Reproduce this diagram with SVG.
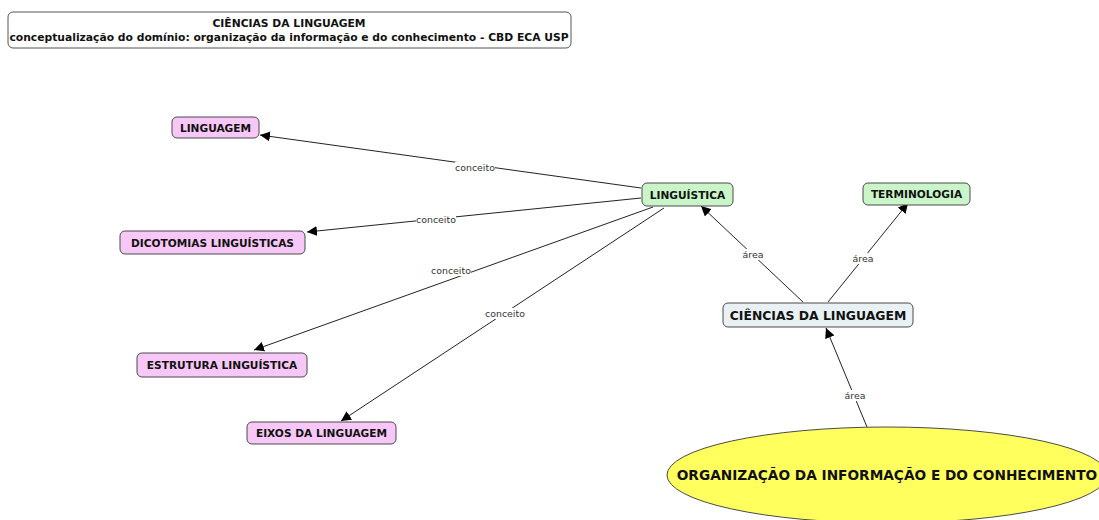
<svg xmlns="http://www.w3.org/2000/svg" width="1099" height="520" viewBox="0 0 1099 520">
<defs>
<marker id="arr" viewBox="0 0 10 10" refX="10" refY="5" markerWidth="10" markerHeight="10" markerUnits="userSpaceOnUse" orient="auto">
<path d="M0,0 L10,5 L0,10 z" fill="#000"/>
</marker>
</defs>
<style>
text{font-family:"DejaVu Sans",Verdana,sans-serif;}
.node rect{stroke:#4a4a4a;stroke-width:1;}
.pink{fill:#f7c8f7;}
.green{fill:#c9f5c9;}
.blue{fill:#eaf1f4;}
.nt{font-weight:bold;font-size:10.6px;fill:#111;text-anchor:middle;}
.big{font-size:12.4px;}
.edge line{stroke:#222;stroke-width:1;marker-end:url(#arr);}
.lbl rect{fill:#fff;}
.lbl text{font-size:9.4px;fill:#333;text-anchor:middle;}
.title{font-weight:bold;font-size:10.75px;fill:#111;text-anchor:middle;}
</style>
<rect width="1099" height="520" fill="#fff"/>
<g id="title">
<rect x="8" y="12" width="563" height="36" rx="5" fill="#fff" stroke="#555"/>
<text class="title" x="289" y="27">CIÊNCIAS DA LINGUAGEM</text>
<text class="title" x="289" y="41">conceptualização do domínio: organização da informação e do conhecimento - CBD ECA USP</text>
</g>
<g id="connectors" class="edge">
<line x1="641" y1="188" x2="260" y2="135"/>
<line x1="641" y1="198" x2="307" y2="232"/>
<line x1="653" y1="207" x2="254" y2="350"/>
<line x1="664" y1="208" x2="341" y2="421"/>
<line x1="803" y1="302" x2="701" y2="206"/>
<line x1="828" y1="302" x2="908" y2="203"/>
<line x1="867" y1="427" x2="826" y2="328"/>
</g>
<g id="labels" class="lbl">
<rect x="455" y="162" width="40" height="11"/><text x="475" y="171">conceito</text>
<rect x="416" y="214" width="40" height="11"/><text x="436" y="223">conceito</text>
<rect x="431" y="265" width="40" height="11"/><text x="451" y="274">conceito</text>
<rect x="485" y="308" width="40" height="11"/><text x="505" y="317">conceito</text>
<rect x="742" y="249" width="22" height="11"/><text x="753" y="258">área</text>
<rect x="852" y="253" width="22" height="11"/><text x="863" y="262">área</text>
<rect x="844" y="390" width="22" height="11"/><text x="855" y="399">área</text>
</g>
<g id="linguagem" class="node">
<rect class="pink" x="172" y="117" width="87" height="21" rx="5"/>
<text class="nt" x="215.5" y="131.5">LINGUAGEM</text>
</g>
<g id="dicotomias" class="node">
<rect class="pink" x="120" y="231" width="185" height="23" rx="5"/>
<text class="nt" x="212.5" y="246.5">DICOTOMIAS LINGUÍSTICAS</text>
</g>
<g id="estrutura" class="node">
<rect class="pink" x="137" y="353" width="170" height="24" rx="5"/>
<text class="nt" x="222" y="369">ESTRUTURA LINGUÍSTICA</text>
</g>
<g id="eixos" class="node">
<rect class="pink" x="247" y="422" width="149" height="22" rx="5"/>
<text class="nt" x="321.5" y="437">EIXOS DA LINGUAGEM</text>
</g>
<g id="linguistica" class="node">
<rect class="green" x="642" y="183" width="91" height="23" rx="5"/>
<text class="nt" x="687.5" y="198.5">LINGUÍSTICA</text>
</g>
<g id="terminologia" class="node">
<rect class="green" x="863" y="183" width="107" height="22" rx="5"/>
<text class="nt" x="916.5" y="198">TERMINOLOGIA</text>
</g>
<g id="ciencias" class="node">
<rect class="blue" x="723" y="303" width="190" height="24" rx="5"/>
<text class="nt big" x="818" y="319.5">CIÊNCIAS DA LINGUAGEM</text>
</g>
<g id="organizacao" class="node">
<ellipse cx="887" cy="475" rx="220" ry="48" fill="#ffff5e" stroke="#4a4a4a"/>
<text class="nt" style="font-size:13.7px" x="887" y="480">ORGANIZAÇÃO DA INFORMAÇÃO E DO CONHECIMENTO</text>
</g>
</svg>
